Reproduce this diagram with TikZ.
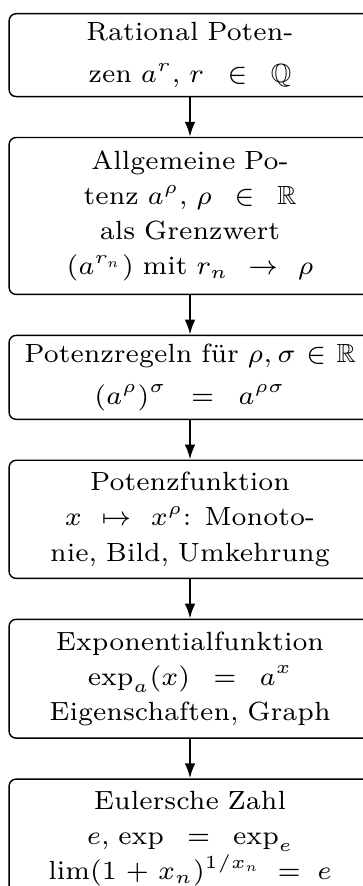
\RequirePackage{fix-cm}
\documentclass[tikz,border=0pt]{standalone}
\usepackage{amsmath,amssymb}
\usepackage{tikz}
\usetikzlibrary{arrows.meta,positioning}
\newcommand{\widerel}[1]{\mskip1.5mu#1\mskip1.5mu}
\tikzset{
  topicbox/.style={
    rectangle,
    rounded corners=2pt,
    draw=black,
    line width=0.4pt,
    align=center,
    text width=99pt,
    minimum width=101.7pt,
    inner sep=1pt,
    font=\fontsize{7.4}{9.9}\selectfont
  },
  topicline/.style={-{Latex[length=4.2pt,width=3pt]},line width=0.6pt}
}
\begin{document}
\begin{tikzpicture}[node distance=11.1pt]
  \useasboundingbox (0,0) rectangle (102pt,-249pt);
  \node[topicbox, minimum height=23.3pt, anchor=north] (ratpot) at (53.4pt,-3.65pt)
    {Rational Poten-\\[1.8pt]zen $a^r$, $r\widerel{\in}\mathbb{Q}$};
  \node[topicbox, minimum height=44.1pt, below=of ratpot] (allgpot)
    {Allgemeine Po-\\tenz $a^\rho$, $\rho\widerel{\in}\mathbb{R}$\\als Grenzwert\\$(a^{r_n})$ mit $r_n\widerel{\to}\rho$};
  \node[topicbox, minimum height=23.6pt, below=of allgpot] (regeln)
    {Potenzregeln f\"ur $\rho,\sigma\in\mathbb{R}$\\[1.8pt]$(a^\rho)^\sigma\widerel{=}a^{\rho\sigma}$};
  \node[topicbox, minimum height=33.2pt, below=of regeln] (potfkt)
    {Potenzfunktion\\$x\widerel{\mapsto}x^\rho$: Monoto-\\nie, Bild, Umkehrung};
  \node[topicbox, minimum height=33.4pt, below=of potfkt] (expfkt)
    {Exponentialfunktion\\$\exp_a(x)\widerel{=}a^x$\\Eigenschaften, Graph};
  \node[topicbox, minimum height=33.4pt, below=of expfkt] (euler)
    {Eulersche Zahl\\$e$, $\exp\widerel{=}\exp_e$\\$\lim(1+x_n)^{1/x_n}\widerel{=}e$};
  \draw[topicline] (ratpot) -- (allgpot);
  \draw[topicline] (allgpot) -- (regeln);
  \draw[topicline] (regeln) -- (potfkt);
  \draw[topicline] (potfkt) -- (expfkt);
  \draw[topicline] (expfkt) -- (euler);
\end{tikzpicture}
\end{document}
